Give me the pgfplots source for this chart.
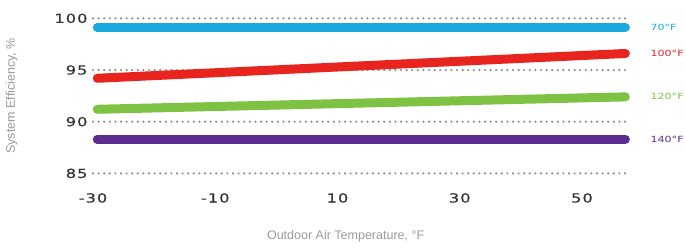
\documentclass[border=0pt]{standalone}
\usepackage{fontspec}
\setmainfont{Liberation Sans}
\newfontfamily\techfont[FakeStretch=1.3,LetterSpace=8,FakeBold=0.6]{DejaVu Sans}
\newfontfamily\smalltech[FakeStretch=1.3]{DejaVu Sans}
\usepackage{pgfplots}
\pgfplotsset{compat=1.18}
\definecolor{cblue}{HTML}{1BA8E0}
\definecolor{cred}{HTML}{E8241E}
\definecolor{cgreen}{HTML}{7DC242}
\definecolor{cpurple}{HTML}{5C2D91}
\definecolor{tickc}{HTML}{333333}
\definecolor{labc}{HTML}{9A9A9A}
\definecolor{gridc}{HTML}{8C8C8C}
\begin{document}
\begin{tikzpicture}
\useasboundingbox (-93pt,-64.3pt) rectangle (593pt,183.7pt);
\begin{axis}[
  scale only axis,
  width=533pt, height=175.7pt,
  xmin=-30, xmax=57.2,
  ymin=84, ymax=101,
  clip=false,
  axis line style={draw=none},
  tick style={draw=none},
  xtick={-30,-10,10,30,50},
  xticklabels={-30,-10,10,30,50},
  ytick={85,90,95,100},
  yticklabels={85,90,95,100},
  ymajorgrids,
  major grid style={draw=gridc, line width=2.4pt, line cap=round, dash pattern=on 0pt off 5.6pt},
  ticklabel style={font=\techfont\fontsize{12.5}{14}\selectfont, text=tickc},
  xticklabel style={yshift=-6pt},
  yticklabel style={xshift=-2pt},
  xlabel={Outdoor Air Temperature, \textdegree F},
  ylabel={System Efficiency, \%},
  label style={font=\fontsize{12.5}{14}\selectfont, text=labc},
  xlabel style={at={(axis description cs:0.474,0)}, yshift=-43pt},
  ylabel style={at={(rel axis cs:0,0.5)}, yshift=72pt},
]
\addplot[cblue, line width=9pt, line cap=round] coordinates {(-29.3,99.13) (57.1,99.13)};
\addplot[cred, line width=9pt, line cap=round] coordinates {(-29.3,94.2) (57.1,96.6)};
\addplot[cgreen, line width=9pt, line cap=round] coordinates {(-29.3,91.2) (57.1,92.4)};
\addplot[cpurple, line width=9pt, line cap=round] coordinates {(-29.3,88.3) (57.1,88.3)};
\tikzset{rl/.style={anchor=west, inner sep=0pt, font=\smalltech\fontsize{8.5}{10}\selectfont}}
\node[rl, text=cblue] at (axis cs:61.2,99.13) {70\textdegree F};
\node[rl, text=cred] at (axis cs:61.2,96.6) {100\textdegree F};
\node[rl, text=cgreen] at (axis cs:61.2,92.4) {120\textdegree F};
\node[rl, text=cpurple] at (axis cs:61.2,88.3) {140\textdegree F};
\end{axis}
\end{tikzpicture}
\end{document}
